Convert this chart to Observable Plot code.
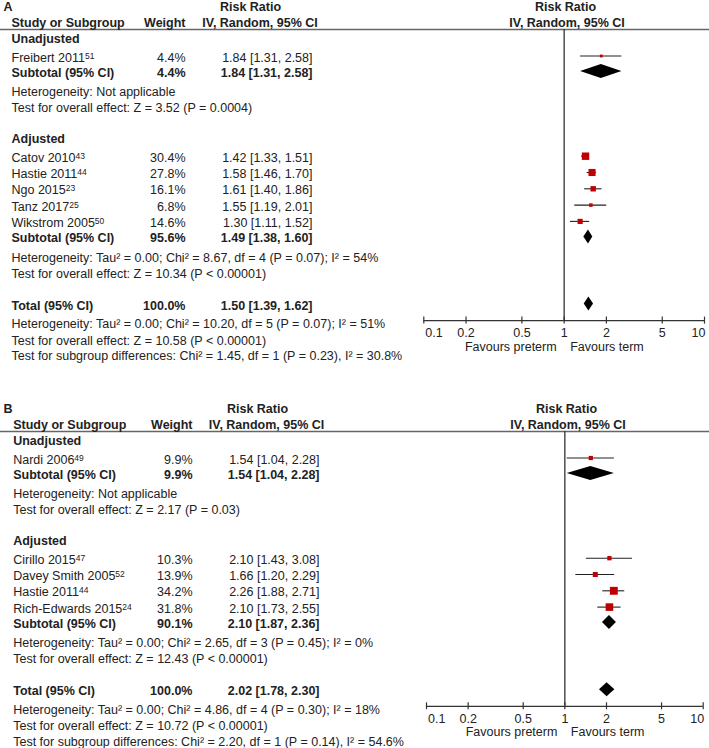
<!DOCTYPE html>
<html><head><meta charset="utf-8">
<script src="https://cdn.jsdelivr.net/npm/d3@7"></script>
<script src="https://cdn.jsdelivr.net/npm/@observablehq/plot@0.6"></script>
<style>
html,body{margin:0;padding:0;background:#fff;}
#chart svg{display:block;}
</style>
</head><body><div id="chart"></div>
<script>
// ---------------- DATA ----------------
const tickValues = [0.1, 0.2, 0.5, 1, 2, 5, 10];
const favoursLeft = "Favours preterm";
const favoursRight = "Favours term";
const groupTitles = ["Unadjusted", "Adjusted"];

// Panel A
const aUnadjNames = ["Freibert 2011"];
const aUnadjRefs = ["51"];
const aUnadjWeights = [4.4];
const aUnadjRR = [1.84];
const aUnadjLo = [1.31];
const aUnadjHi = [2.58];
const aUnadjSubtotal = [4.4, 1.84, 1.31, 2.58];
const aUnadjStats = ["Heterogeneity: Not applicable", "Test for overall effect: Z = 3.52 (P = 0.0004)"];

const aAdjNames = ["Catov 2010", "Hastie 2011", "Ngo 2015", "Tanz 2017", "Wikstrom 2005"];
const aAdjRefs = ["43", "44", "23", "25", "50"];
const aAdjWeights = [30.4, 27.8, 16.1, 6.8, 14.6];
const aAdjRR = [1.42, 1.58, 1.61, 1.55, 1.30];
const aAdjLo = [1.33, 1.46, 1.40, 1.19, 1.11];
const aAdjHi = [1.51, 1.70, 1.86, 2.01, 1.52];
const aAdjSubtotal = [95.6, 1.49, 1.38, 1.60];
const aAdjStats = ["Heterogeneity: Tau² = 0.00; Chi² = 8.67, df = 4 (P = 0.07); I² = 54%", "Test for overall effect: Z = 10.34 (P < 0.00001)"];

const aTotal = [100.0, 1.50, 1.39, 1.62];
const aTotalStats = [
  "Heterogeneity: Tau² = 0.00; Chi² = 10.20, df = 5 (P = 0.07); I² = 51%",
  "Test for overall effect: Z = 10.58 (P < 0.00001)",
  "Test for subgroup differences: Chi² = 1.45, df = 1 (P = 0.23), I² = 30.8%"
];

// Panel B
const bUnadjNames = ["Nardi 2006"];
const bUnadjRefs = ["49"];
const bUnadjWeights = [9.9];
const bUnadjRR = [1.54];
const bUnadjLo = [1.04];
const bUnadjHi = [2.28];
const bUnadjSubtotal = [9.9, 1.54, 1.04, 2.28];
const bUnadjStats = ["Heterogeneity: Not applicable", "Test for overall effect: Z = 2.17 (P = 0.03)"];

const bAdjNames = ["Cirillo 2015", "Davey Smith 2005", "Hastie 2011", "Rich-Edwards 2015"];
const bAdjRefs = ["47", "52", "44", "24"];
const bAdjWeights = [10.3, 13.9, 34.2, 31.8];
const bAdjRR = [2.10, 1.66, 2.26, 2.10];
const bAdjLo = [1.43, 1.20, 1.88, 1.73];
const bAdjHi = [3.08, 2.29, 2.71, 2.55];
const bAdjSubtotal = [90.1, 2.10, 1.87, 2.36];
const bAdjStats = ["Heterogeneity: Tau² = 0.00; Chi² = 2.65, df = 3 (P = 0.45); I² = 0%", "Test for overall effect: Z = 12.43 (P < 0.00001)"];

const bTotal = [100.0, 2.02, 1.78, 2.30];
const bTotalStats = [
  "Heterogeneity: Tau² = 0.00; Chi² = 4.86, df = 4 (P = 0.30); I² = 18%",
  "Test for overall effect: Z = 10.72 (P < 0.00001)",
  "Test for subgroup differences: Chi² = 2.20, df = 1 (P = 0.14), I² = 54.6%"
];

// ---------------- BUILD ----------------
const FONT = "'Liberation Sans', Arial, Helvetica, sans-serif";
const TXT = "#222";
const RED = "#c00000";
const fmtW = w => w.toFixed(1) + "%";
const fmtCI = (r, l, h) => `${r.toFixed(2)} [${l.toFixed(2)}, ${h.toFixed(2)}]`;

function group(title, names, refs, weights, rr, lo, hi, subtotal, stats) {
  return {title, names, refs, weights, rr, lo, hi, subtotal, stats};
}

function diamond(id, yc, r, l, h) {
  return [
    {id, y: yc - 7, x1: r, x2: r},
    {id, y: yc, x1: l, x2: h},
    {id, y: yc + 7, x1: r, x2: r}
  ];
}

function buildPanel(p) {
  const rows = [];
  const studies = [];
  const diamonds = [];
  let y = 38;
  p.groups.forEach((g, gi) => {
    if (gi > 0) y += 30.5;
    rows.push({y, name: g.title, bold: true});
    y += 19;
    g.names.forEach((n, i) => {
      if (i > 0) y += 16.3;
      rows.push({y, name: n + "^" + g.refs[i], weight: fmtW(g.weights[i]), ci: fmtCI(g.rr[i], g.lo[i], g.hi[i]), bold: false});
      studies.push({y: y - 1.5, w: g.weights[i], rr: g.rr[i], lo: g.lo[i], hi: g.hi[i]});
    });
    y += 15.5;
    const [sw, sr, sl, sh] = g.subtotal;
    rows.push({y, name: "Subtotal (95% CI)", weight: fmtW(sw), ci: fmtCI(sr, sl, sh), bold: true});
    diamonds.push(...diamond("g" + gi, y - 1.5, sr, sl, sh));
    y += 19.2;
    rows.push({y, name: g.stats[0], bold: false});
    y += 16;
    rows.push({y, name: g.stats[1], bold: false});
  });
  y += 32;
  const [tw, tr, tl, th] = p.total;
  rows.push({y, name: "Total (95% CI)", weight: fmtW(tw), ci: fmtCI(tr, tl, th), bold: true});
  diamonds.push(...diamond("total", y - 1.5, tr, tl, th));
  const axisY = y + 15;
  y += 18.5;
  rows.push({y, name: p.totalStats[0], bold: false});
  y += 16.5;
  rows.push({y, name: p.totalStats[1], bold: false});
  y += 15.5;
  rows.push({y, name: p.totalStats[2], bold: false});

  const ruleTop = 29;
  const head1 = 6, head2 = 22;
  const tickLabelY = axisY + 12.5;
  const favY = axisY + 26;
  const normal = rows.filter(d => !d.bold);
  const bold = rows.filter(d => d.bold);

  const colText = (data, key, anchor, dx, weight) => Plot.text(data.filter(d => d[key] != null), {
    y: "y", text: key, frameAnchor: "left", dx, textAnchor: anchor, fontWeight: weight, fill: TXT
  });
  const header = (label, yy, dx, anchor) => Plot.text([label], {
    y: () => yy, text: d => d, frameAnchor: "left", dx, textAnchor: anchor, fontWeight: "bold", fill: TXT
  });

  const svg = Plot.plot({
    width: 709, height: p.height,
    marginTop: 0, marginBottom: 0, marginLeft: 0, marginRight: 0,
    style: {fontFamily: FONT, fontSize: "12.5px", color: TXT, background: "#fff", overflow: "visible"},
    x: {type: "log", domain: [0.1, 10], range: p.xRange, axis: null},
    y: {domain: [0, p.height], range: [0, p.height], axis: null},
    r: {type: "sqrt", domain: [0, 100], range: [0, 7.6]},
    marks: [
      Plot.ruleY([ruleTop], {stroke: "#666", strokeWidth: 1.6}),
      Plot.ruleX([1], {y1: ruleTop, y2: axisY, stroke: "#333", strokeWidth: 1.3}),
      Plot.ruleY([axisY], {x1: tickValues[0], x2: tickValues[tickValues.length - 1], stroke: "#333", strokeWidth: 1.3}),
      Plot.ruleX(tickValues, {x: d => d, y1: axisY - 3.5, y2: axisY + 3.5, stroke: "#333", strokeWidth: 1.2}),
      Plot.text(tickValues.slice(0, 1), {x: d => d, y: () => tickLabelY, text: d => String(d), textAnchor: "start", dx: 1.5, fill: TXT}),
      Plot.text(tickValues.slice(1, -1), {x: d => d, y: () => tickLabelY, text: d => String(d), textAnchor: "middle", fill: TXT}),
      Plot.text(tickValues.slice(-1), {x: d => d, y: () => tickLabelY, text: d => String(d), textAnchor: "end", dx: 1, fill: TXT}),
      Plot.text([favoursLeft], {x: () => 1, y: () => favY, text: d => d, textAnchor: "end", dx: -7.5, fill: TXT}),
      Plot.text([favoursRight], {x: () => 1, y: () => favY, text: d => d, textAnchor: "start", dx: 6, fill: TXT}),
      // CI lines and study squares
      Plot.ruleY(studies, {y: "y", x1: "lo", x2: "hi", stroke: "#222", strokeWidth: 1.1}),
      Plot.dot(studies, {x: "rr", y: "y", r: "w", symbol: "square", fill: RED, stroke: "none"}),
      // diamonds
      Plot.areaX(diamonds, {y: "y", x1: "x1", x2: "x2", z: "id", fill: "#000"}),
      // headers
      header(p.label, head1, 3, "start"),
      header("Risk Ratio", head1, p.rrHeadX, "middle"),
      header("Study or Subgroup", head2, p.nameX, "start"),
      header("Weight", head2, p.weightX, "end"),
      header("IV, Random, 95% CI", head2, p.ivHeadX, "middle"),
      header("Risk Ratio", head1, p.rightHead1X, "middle"),
      header("IV, Random, 95% CI", head2, p.rightHead2X, "middle"),
      // table text
      colText(normal, "name", "start", p.nameX, "normal"),
      colText(bold, "name", "start", p.nameX, "bold"),
      colText(normal, "weight", "end", p.weightX, "normal"),
      colText(bold, "weight", "end", p.weightX, "bold"),
      colText(normal, "ci", "end", p.ciX, "normal"),
      colText(bold, "ci", "end", p.ciX, "bold")
    ]
  });

  // superscript reference numbers
  svg.querySelectorAll("text").forEach(t => {
    const s = t.textContent;
    const k = s.indexOf("^");
    if (k < 0) return;
    t.textContent = s.slice(0, k);
    const ts = document.createElementNS("http://www.w3.org/2000/svg", "tspan");
    ts.setAttribute("dy", "-3");
    ts.setAttribute("font-size", "8.5");
    ts.textContent = s.slice(k + 1);
    t.appendChild(ts);
  });
  return svg;
}

const panelA = buildPanel({
  label: "A", height: 402, xRange: [423.3, 704],
  nameX: 11, weightX: 185, ciX: 312, rrHeadX: 250, ivHeadX: 259.5, rightHead1X: 565, rightHead2X: 566.5,
  groups: [
    group(groupTitles[0], aUnadjNames, aUnadjRefs, aUnadjWeights, aUnadjRR, aUnadjLo, aUnadjHi, aUnadjSubtotal, aUnadjStats),
    group(groupTitles[1], aAdjNames, aAdjRefs, aAdjWeights, aAdjRR, aAdjLo, aAdjHi, aAdjSubtotal, aAdjStats)
  ],
  total: aTotal, totalStats: aTotalStats
});

const panelB = buildPanel({
  label: "B", height: 346, xRange: [426, 702.7],
  nameX: 12.7, weightX: 192, ciX: 319, rrHeadX: 257, ivHeadX: 266, rightHead1X: 566, rightHead2X: 567.5,
  groups: [
    group(groupTitles[0], bUnadjNames, bUnadjRefs, bUnadjWeights, bUnadjRR, bUnadjLo, bUnadjHi, bUnadjSubtotal, bUnadjStats),
    group(groupTitles[1], bAdjNames, bAdjRefs, bAdjWeights, bAdjRR, bAdjLo, bAdjHi, bAdjSubtotal, bAdjStats)
  ],
  total: bTotal, totalStats: bTotalStats
});

const chart = document.getElementById("chart");
chart.appendChild(panelA);
chart.appendChild(panelB);
</script>
</body></html>
